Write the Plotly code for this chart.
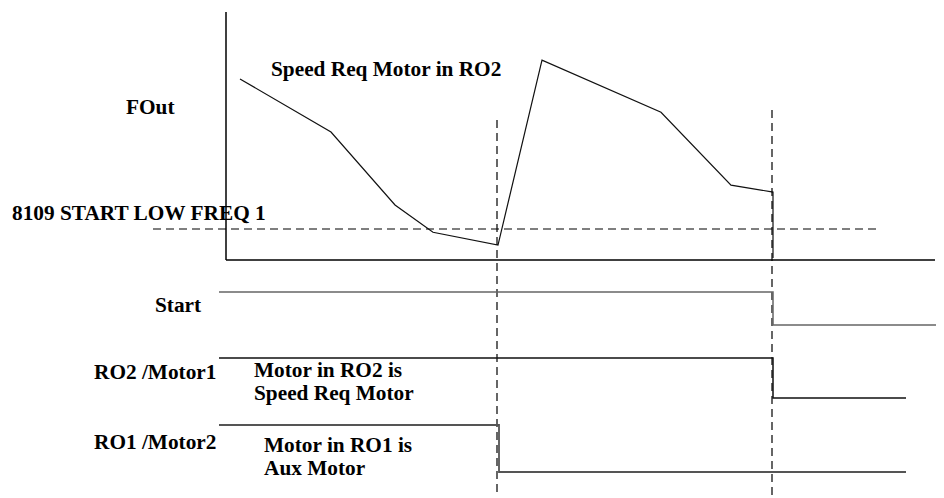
'''Timing diagram: speed-request motor handover between RO2 and RO1'''
import plotly.graph_objects as go

# ---- data (time in arbitrary units, FOut in Hz, signal levels in lane units) ----
fout_t = [1.4, 10.5, 16.9, 20.7, 27.2, 31.6, 43.5, 50.5, 54.7, 54.7]
fout_hz = [36.5, 25.8, 11.1, 5.6, 3.0, 40.3, 29.8, 15.1, 13.7, 0.4]

start_low_freq = 6.25
start_low_freq_t = [-7.3, 65.2]

event_t = [27.1, 54.6]
event_span = [[0.6, 38.3], [0.3, 39.0]]

start_t = [-0.7, 54.7, 54.7, 71.8]
start_lvl = [20.6, 20.6, 17.3, 17.3]
ro2_t = [-0.7, 54.7, 54.7, 68.0]
ro2_lvl = [14.0, 14.0, 10.0, 10.0]
ro1_t = [-0.7, 27.3, 27.3, 68.0]
ro1_lvl = [7.3, 7.3, 2.6, 2.6]

fout_axis_t = [0, 70.9]
fout_axis_top = 50

# ---- geometry (page body has an 8px margin, so the figure is 8px smaller) ----
X_RANGE = [-21.8, 71.8]
Y_HZ_RANGE = [-47.98, 50.81]
Y_LANE_RANGE = [0, 49.0]
FONT = dict(family='Liberation Serif', size=21.3, color='black')
DASH = '8px,5px'

fig = go.Figure()

# FOut axes
fig.add_trace(go.Scatter(x=[fout_axis_t[0], fout_axis_t[0]], y=[0, fout_axis_top],
                         mode='lines', line=dict(color='black', width=1.5), yaxis='y'))
fig.add_trace(go.Scatter(x=fout_axis_t, y=[0, 0],
                         mode='lines', line=dict(color='black', width=1.5), yaxis='y'))

# start low freq threshold
fig.add_trace(go.Scatter(x=start_low_freq_t, y=[start_low_freq] * 2, mode='lines',
                         line=dict(color='black', width=1.2, dash=DASH), yaxis='y'))

# output frequency
fig.add_trace(go.Scatter(x=fout_t, y=fout_hz, mode='lines',
                         line=dict(color='#111111', width=1.2), yaxis='y'))

# event markers
for t, span in zip(event_t, event_span):
    fig.add_trace(go.Scatter(x=[t, t], y=span, mode='lines',
                             line=dict(color='black', width=1.2, dash=DASH), yaxis='y2'))

# digital signals
fig.add_trace(go.Scatter(x=start_t, y=start_lvl, mode='lines',
                         line=dict(color='#666666', width=1.5), yaxis='y2'))
fig.add_trace(go.Scatter(x=ro2_t, y=ro2_lvl, mode='lines',
                         line=dict(color='#111111', width=1.5), yaxis='y2'))
fig.add_trace(go.Scatter(x=ro1_t, y=ro1_lvl, mode='lines',
                         line=dict(color='#555555', width=1.8), yaxis='y2'))

labels = [
    ('<b>FOut</b>', -7.6, 39.1, 'center'),
    ('<b>Speed Req Motor in RO2</b>', 4.3, 42.9, 'left'),
    ('<b>8109 START LOW FREQ 1</b>', -21.6, 28.5, 'left'),
    ('<b>Start</b>', -2.3, 19.3, 'right'),
    ('<b>RO2 /Motor1</b>', -13.4, 12.6, 'left'),
    ('<b>Motor in RO2 is</b>', 2.6, 12.8, 'left'),
    ('<b>Speed Req Motor</b>', 2.6, 10.5, 'left'),
    ('<b>RO1 /Motor2</b>', -13.4, 5.6, 'left'),
    ('<b>Motor in RO1 is</b>', 3.6, 5.3, 'left'),
    ('<b>Aux Motor</b>', 3.6, 3.0, 'left'),
]
for text, x, y, anchor in labels:
    fig.add_annotation(text=text, x=x, y=y, xref='x', yref='y2', showarrow=False,
                       xanchor=anchor, yanchor='middle', font=FONT)

fig.update_layout(
    width=936, height=490,
    margin=dict(l=0, r=0, t=0, b=0),
    paper_bgcolor='white', plot_bgcolor='white',
    showlegend=False,
    xaxis=dict(range=X_RANGE, visible=False),
    yaxis=dict(range=Y_HZ_RANGE, visible=False),
    yaxis2=dict(range=Y_LANE_RANGE, visible=False, overlaying='y'),
)

fig.write_html("out.html")
